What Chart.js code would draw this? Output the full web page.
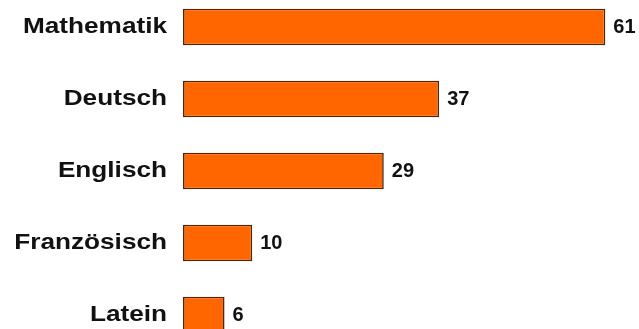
<!DOCTYPE html>
<html>
<head>
<meta charset="utf-8">
<script src="https://cdn.jsdelivr.net/npm/chart.js@4.4.0/dist/chart.umd.min.js"></script>
<style>
html, body { margin: 0; padding: 0; background: #ffffff; overflow: hidden; width: 639px; height: 329px; }
#wrap { position: absolute; left: 0; top: -9px; width: 639px; height: 360px; }
</style>
</head>
<body>
<div id="wrap"><canvas id="c" width="639" height="360"></canvas></div>
<script>
const categories = ["Mathematik", "Deutsch", "Englisch", "Französisch", "Latein"];
const values = [61, 37, 29, 10, 6];

const labelPlugin = {
  id: 'labels',
  afterDatasetsDraw(chart) {
    const ctx = chart.ctx;
    const meta = chart.getDatasetMeta(0);
    const yScale = chart.scales.y;
    ctx.save();
    ctx.fillStyle = '#111111';
    ctx.font = 'bold 22px "Liberation Sans", Arial, sans-serif';
    ctx.textAlign = 'right';
    ctx.textBaseline = 'alphabetic';
    chart.data.labels.forEach((lab, i) => {
      const y = yScale.getPixelForTick(i);
      ctx.save();
      ctx.translate(167, y + 6);
      ctx.scale(1.19, 1);
      ctx.fillText(lab, 0, 0);
      ctx.restore();
    });
    ctx.font = 'bold 20px "Liberation Sans", Arial, sans-serif';
    ctx.textAlign = 'left';
    meta.data.forEach((bar, i) => {
      ctx.fillText(String(chart.data.datasets[0].data[i]), bar.x + 8, bar.y + 6);
    });
    ctx.restore();
  }
};

new Chart(document.getElementById('c'), {
  type: 'bar',
  data: {
    labels: categories,
    datasets: [{
      data: values,
      backgroundColor: '#ff6600',
      borderColor: '#4e2608',
      borderWidth: 1.6,
      borderSkipped: false,
      barPercentage: 0.51,
      categoryPercentage: 1.0
    }]
  },
  options: {
    indexAxis: 'y',
    responsive: false,
    animation: false,
    layout: { padding: { left: 183, right: 6, top: 0, bottom: 0 } },
    plugins: { legend: { display: false }, tooltip: { enabled: false } },
    scales: {
      x: { display: false, min: 0, max: 65 },
      y: { display: false }
    }
  },
  plugins: [labelPlugin]
});
</script>
</body>
</html>
